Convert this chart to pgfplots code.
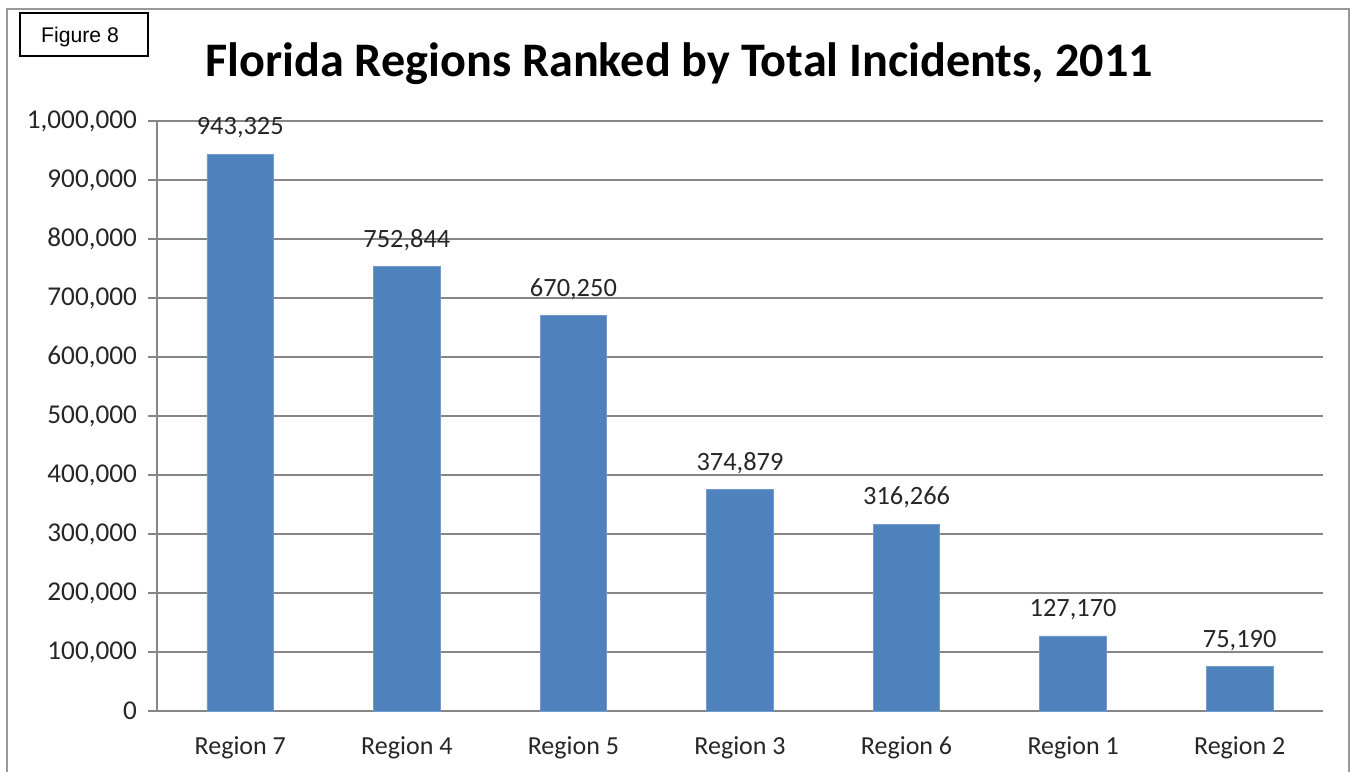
\documentclass[border=0pt]{standalone}
\usepackage{pgfplots}
\pgfplotsset{compat=1.18}
\usepackage{fontspec}
\setmainfont{Carlito}
\newfontfamily\arialfont{Liberation Sans}
\definecolor{barblue}{HTML}{4F81BD}
\definecolor{gridgray}{HTML}{868686}
\begin{document}
\begin{tikzpicture}[x=1pt,y=1pt]
\useasboundingbox (0,0) rectangle (675.5,386);
% outer frame
\draw[gray!80, line width=1.2pt] (3.5,-10) -- (3.5,381.5) -- (674.5,381.5) -- (674.5,-10);
% figure label box
\draw[black, line width=0.6pt] (10,358) rectangle (74,379.5);
\node[font=\arialfont\fontsize{10.6}{12}\selectfont] at (40,367.5) {Figure 8};
% title
\node[font=\bfseries\fontsize{24.1}{28}\selectfont] at (339.5,354) {Florida Regions Ranked by Total Incidents, 2011};
\begin{axis}[
  at={(78.5pt,30.5pt)}, anchor=south west,
  scale only axis, width=583pt, height=295pt,
  ybar, bar width=0.4,
  xmin=-0.5, xmax=6.5,
  ymin=0, ymax=1000000,
  axis lines=left,
  axis line style={gridgray, line width=0.7pt, -},
  xtick={0,...,6},
  xticklabels={Region 7, Region 4, Region 5, Region 3, Region 6, Region 1, Region 2},
  major x tick style={draw=none},
  extra x ticks={-0.5,0.5,1.5,2.5,3.5,4.5,5.5,6.5},
  extra x tick labels={},
  extra x tick style={tick align=outside, major tick length=4pt,
     major tick style={gridgray, line width=0.7pt}, grid=none},
  ytick={0,100000,...,1000000},
  ymajorgrids,
  major grid style={gridgray, line width=0.7pt},
  ytick style={gridgray, line width=0.7pt},
  tick align=outside, major tick length=4.5pt,
  scaled y ticks=false,
  yticklabel style={/pgf/number format/fixed, /pgf/number format/1000 sep={,},
     /pgf/number format/assume math mode=true, xshift=-2pt,
     font=\fontsize{13.6}{15}\selectfont},
  ticklabel style={text=black!85},
  xticklabel style={yshift=-5pt, font=\fontsize{13}{15}\selectfont},
  nodes near coords,
  every node near coord/.append style={font=\fontsize{13.2}{15}\selectfont, text=black!85,
     /pgf/number format/fixed, /pgf/number format/1000 sep={,},
     /pgf/number format/assume math mode=true, yshift=4.5pt},
  clip=false,
]
\addplot[fill=barblue, draw=barblue!80!white] coordinates {
  (0,943325) (1,752844) (2,670250) (3,374879) (4,316266) (5,127170) (6,75190)
};
\end{axis}
\end{tikzpicture}
\end{document}
